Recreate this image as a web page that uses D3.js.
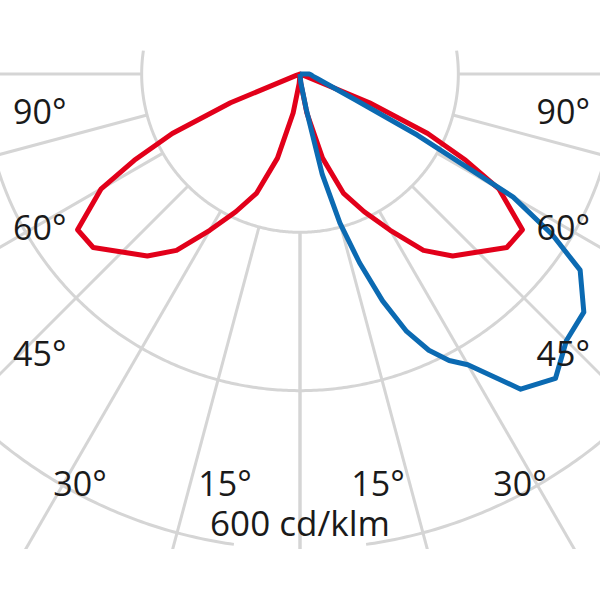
<!DOCTYPE html>
<html>
<head>
<meta charset="utf-8">
<script src="https://cdn.jsdelivr.net/npm/d3@7"></script>
<style>
  html, body { margin: 0; padding: 0; background: #fff; }
  svg { display: block; }
  text { font-family: "Open Sans", sans-serif; fill: #1a1a1a; }
</style>
</head>
<body>
<svg id="chart" width="600" height="600"></svg>
<script>
// ---- data (cd/klm) ----
const redGamma   = [0, 5, 10, 15, 20, 25, 30, 35, 40, 45, 50, 55, 60, 62.5, 65, 67.5, 70, 75, 80, 85, 90];
const redValues  = [0, 12, 50, 110, 160, 192, 228, 272, 300, 318, 341, 343, 290, 236, 178, 95, 5, 0, 0, 0, 0];

const blueGamma  = [0, 5, 10, 12.5, 15, 17.5, 20, 22.5, 25, 27.5, 30, 35, 40, 45, 50, 55, 57.5, 60, 62.5, 65, 70, 75, 80, 85, 90];
const blueValues = [0, 10, 45, 130, 195, 250, 305, 352, 385, 408, 424, 486, 502, 476, 468, 432, 378, 311, 167, 77, 35, 23, 17, 14, 12];

const ringValues   = [200, 400, 600];
const radialAngles = [0, 15, 30, 45, 60, 75, 90];
const sideLabels   = ["90°", "60°", "45°"];
const bottomLabels = ["30°", "15°", "15°", "30°"];
const unitLabel    = "600 cd/klm";

// ---- setup ----
const W = 600, H = 600;
const cx = 300, cy = 74;
const rad = Math.PI / 180;
const r = d3.scaleLinear().domain([0, 600]).range([0, 475]);

const svg = d3.select("#chart");
svg.append("defs").append("clipPath").attr("id", "clip")
  .append("rect").attr("x", 0).attr("y", 0).attr("width", W).attr("height", 549);

const grid = svg.append("g").attr("clip-path", "url(#clip)")
  .append("g").attr("transform", `translate(${cx},${cy})`);

const gridStyle = sel => sel.attr("fill", "none").attr("stroke", "#d5d5d5").attr("stroke-width", 3);

// rings: gamma measured from straight down; lineRadial angle = PI + gamma
const arcLine = d3.lineRadial().angle(d => Math.PI + d[0] * rad).radius(d => d[1]);
function ringArc(v, g0, g1) {
  const pts = d3.range(g0, g1 + 0.01, 0.5).map(g => [g, r(v)]);
  grid.append("path").attr("d", arcLine(pts)).call(gridStyle);
}
ringArc(ringValues[0], -98.5, 98.5);
ringArc(ringValues[1], -100, 100);
ringArc(ringValues[2], -100, -8);
ringArc(ringValues[2], 8, 100);

// radial lines (both sides)
radialAngles.forEach(a => {
  [a, -a].forEach(g => {
    grid.append("path")
      .attr("d", arcLine([[g, r(ringValues[0])], [g, 1000]]))
      .call(gridStyle);
  });
});

// ---- curves ----
const curves = svg.append("g").attr("transform", `translate(${cx},${cy})`);
const curveLine = d3.lineRadial()
  .angle(d => Math.PI + d.g * rad)
  .radius(d => r(d.v));

// red: C0-C180 plane, left half then right half
const redPts = [];
for (let i = redGamma.length - 1; i >= 0; i--) redPts.push({ g: redGamma[i], v: redValues[i] });
for (let i = 0; i < redGamma.length; i++) redPts.push({ g: -redGamma[i], v: redValues[i] });
curves.append("path").attr("d", curveLine(redPts))
  .attr("fill", "none").attr("stroke", "#e2001a").attr("stroke-width", 5)
  .attr("stroke-linejoin", "round");

// blue: right side only
const bluePts = [{ g: 0, v: 0 }];
blueGamma.forEach((g, i) => bluePts.push({ g: -g, v: blueValues[i] }));
bluePts.push({ g: -90, v: 0 });
curves.append("path").attr("d", curveLine(bluePts))
  .attr("fill", "none").attr("stroke", "#0b6ab2").attr("stroke-width", 5)
  .attr("stroke-linejoin", "round");

// ---- labels ----
const lbl = svg.append("g").attr("font-size", 34);
const sideY = [124, 240, 366];
sideLabels.forEach((t, i) => {
  lbl.append("text").attr("x", 13).attr("y", sideY[i]).attr("text-anchor", "start").text(t);
  lbl.append("text").attr("x", 590).attr("y", sideY[i]).attr("text-anchor", "end").text(t);
});
const bottomX = [80, 225, 378, 520];
bottomLabels.forEach((t, i) => {
  lbl.append("text").attr("x", bottomX[i]).attr("y", 496).attr("text-anchor", "middle").text(t);
});
lbl.append("text").attr("x", 300).attr("y", 536).attr("text-anchor", "middle")
  .attr("font-size", 35).text(unitLabel);
</script>
</body>
</html>
